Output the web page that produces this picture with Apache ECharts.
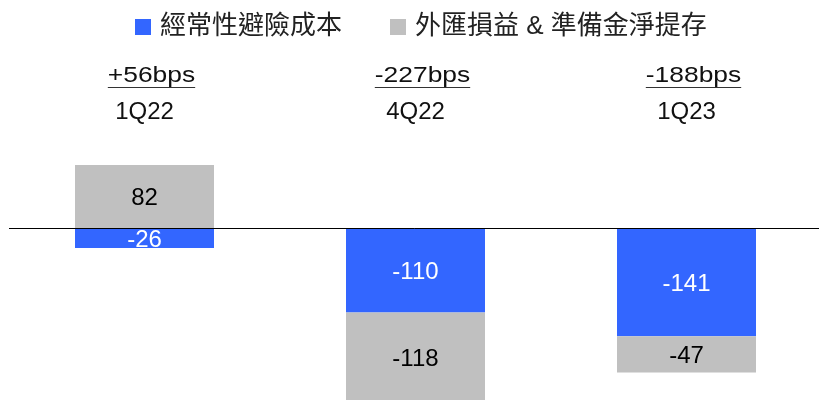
<!DOCTYPE html>
<html>
<head>
<meta charset="utf-8">
<script src="https://cdn.jsdelivr.net/npm/echarts@6/dist/echarts.min.js"></script>
<style>
html, body { margin: 0; padding: 0; background: #fff; }
#c { width: 819px; height: 400px; }
</style>
</head>
<body>
<div id="c"></div>
<script>
// Quarterly contributions (bps)
const quarters = ['1Q22', '4Q22', '1Q23'];
const hedgeCost = [-26, -110, -141];
const fxAndReserve = [82, -118, -47];
const bpsTotals = ['+56bps', '-227bps', '-188bps'];
const seriesNames = ['經常性避險成本', '外匯損益 & 準備金淨提存'];

const BLUE = '#3366FF';
const GRAY = '#C0C0C0';
const LATIN = 'Liberation Sans, Arial, sans-serif';
const CJK = 'Liberation Sans, "Noto Sans CJK TC", sans-serif';

const chart = echarts.init(document.getElementById('c'), null, { renderer: 'canvas' });

const option = {
  animation: false,
  backgroundColor: '#fff',
  legend: {
    left: 135,
    top: 14,
    padding: 0,
    icon: 'rect',
    itemWidth: 16,
    itemHeight: 16,
    itemGap: 48,
    textStyle: { fontSize: 26, color: '#222', fontFamily: CJK, padding: [0, 0, 0, 4] },
    data: seriesNames
  },
  grid: { left: 9, top: 151.2, width: 813, height: 268.8, outerBoundsMode: 'none', containLabel: false },
  xAxis: {
    type: 'category',
    position: 'top',
    data: quarters,
    axisLine: { show: false },
    axisTick: { show: false },
    axisLabel: { margin: 27, fontSize: 24, color: '#111', fontFamily: LATIN }
  },
  yAxis: {
    type: 'value',
    min: -250,
    max: 100,
    show: false,
    splitLine: { show: false }
  },
  series: [
    {
      name: seriesNames[0],
      type: 'bar',
      stack: 'total',
      barWidth: 139,
      data: hedgeCost,
      itemStyle: { color: BLUE },
      label: { show: true, position: 'inside', offset: [0, 2], color: '#fff', fontSize: 24, fontFamily: LATIN },
      markLine: {
        silent: true,
        symbol: 'none',
        label: { show: false },
        lineStyle: { color: '#000', width: 1, type: 'solid' },
        data: [{ yAxis: 0 }]
      }
    },
    {
      name: seriesNames[1],
      type: 'bar',
      stack: 'total',
      barWidth: 139,
      data: fxAndReserve,
      itemStyle: { color: GRAY },
      label: { show: true, position: 'inside', offset: [0, 2], color: '#000', fontSize: 24, fontFamily: LATIN }
    }
  ]
};

chart.setOption(option);

// Underlined bps totals above each quarter
const measure = document.createElement('canvas').getContext('2d');
const TOTAL_FONT = 22;
const STRETCH = 1.2;
measure.font = TOTAL_FONT + 'px Liberation Sans';
const graphics = [];
quarters.forEach(function (q, i) {
  const cx = chart.convertToPixel({ xAxisIndex: 0 }, q) + 7;
  const w = measure.measureText(bpsTotals[i]).width * STRETCH;
  graphics.push({
    type: 'text',
    x: cx,
    y: 87,
    scaleX: STRETCH,
    style: {
      text: bpsTotals[i],
      fontSize: TOTAL_FONT,
      fontFamily: LATIN,
      fill: '#111',
      textAlign: 'center',
      textVerticalAlign: 'bottom'
    }
  });
  graphics.push({
    type: 'line',
    shape: { x1: cx - w / 2, y1: 87.5, x2: cx + w / 2, y2: 87.5 },
    style: { stroke: '#333', lineWidth: 1 }
  });
});
chart.setOption({ graphic: graphics });
</script>
</body>
</html>
